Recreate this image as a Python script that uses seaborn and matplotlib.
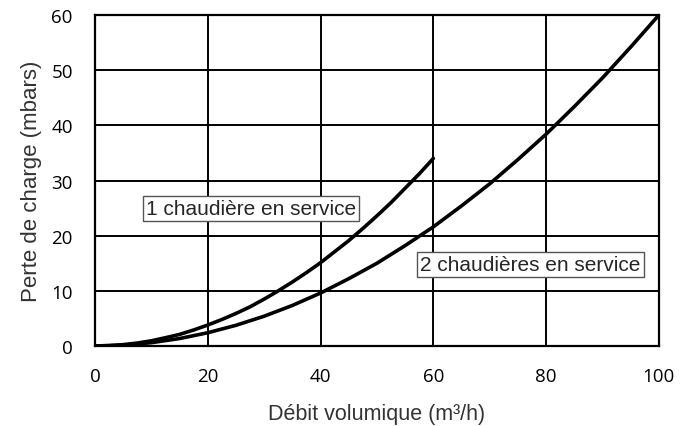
import numpy as np
import pandas as pd
import seaborn as sns
import matplotlib.pyplot as plt

# Values
debit_1 = [0, 2.5, 5, 7.5, 10, 12.5, 15, 17.5, 20, 22.5, 25, 27.5, 30, 32.5, 35, 37.5,
           40, 42.5, 45, 47.5, 50, 52.5, 55, 57.5, 60]
perte_1 = [0, 0.06, 0.24, 0.53, 0.94, 1.5, 2.1, 2.9, 3.8, 4.8, 5.9, 7.1, 8.5, 10.0,
           11.6, 13.3, 15.1, 17.1, 19.1, 21.3, 23.6, 26.0, 28.6, 31.2, 34.0]

debit_2 = [0, 5, 10, 15, 20, 25, 30, 35, 40, 45, 50, 55, 60, 65, 70, 75, 80, 85, 90, 95, 100]
perte_2 = [0, 0.15, 0.6, 1.35, 2.4, 3.75, 5.4, 7.35, 9.6, 12.2, 15.0, 18.2, 21.6, 25.4,
           29.4, 33.8, 38.4, 43.4, 48.6, 54.2, 60.0]

x_ticks = [0, 20, 40, 60, 80, 100]
y_ticks = [0, 10, 20, 30, 40, 50, 60]

df = pd.concat([
    pd.DataFrame({"debit": debit_1, "perte": perte_1, "serie": "1 chaudière en service"}),
    pd.DataFrame({"debit": debit_2, "perte": perte_2, "serie": "2 chaudières en service"}),
])

sns.set_style("white")
plt.rcParams['font.family'] = ['Liberation Sans', 'DejaVu Sans']

fig = plt.figure(figsize=(6.91, 4.27), dpi=100)
ax = fig.add_axes([0.1375, 0.1874, 0.816, 0.775])

sns.lineplot(data=df, x="debit", y="perte", units="serie", estimator=None,
             color="black", linewidth=2.6, ax=ax, legend=False)

ax.set_xlim(0, 100)
ax.set_ylim(0, 60)
ax.set_xticks(x_ticks)
ax.set_yticks(y_ticks)
ax.grid(True, color="black", linewidth=1.4)
ax.set_axisbelow(True)
for s in ax.spines.values():
    s.set_color("black")
    s.set_linewidth(1.6)

ax.tick_params(axis="both", length=0, labelsize=13.5, labelcolor="black")
ax.tick_params(axis="y", pad=16)
ax.tick_params(axis="x", pad=15)
for lab in ax.get_xticklabels() + ax.get_yticklabels():
    lab.set_family("Open Sans")

ax.set_xlabel("Débit volumique (m³/h)", fontsize=15.5, labelpad=13, color="#333333")
ax.set_ylabel("Perte de charge (mbars)", fontsize=16, labelpad=7, color="#333333")

box = dict(boxstyle="square,pad=0.15", facecolor="white", edgecolor="#555555", linewidth=1)
ax.text(27.7, 24.9, "1 chaudière en service", fontsize=15, ha="center", va="center", bbox=box)
ax.text(77.2, 14.8, "2 chaudières en service", fontsize=15, ha="center", va="center", bbox=box)

fig.savefig("out.png", dpi=100)
